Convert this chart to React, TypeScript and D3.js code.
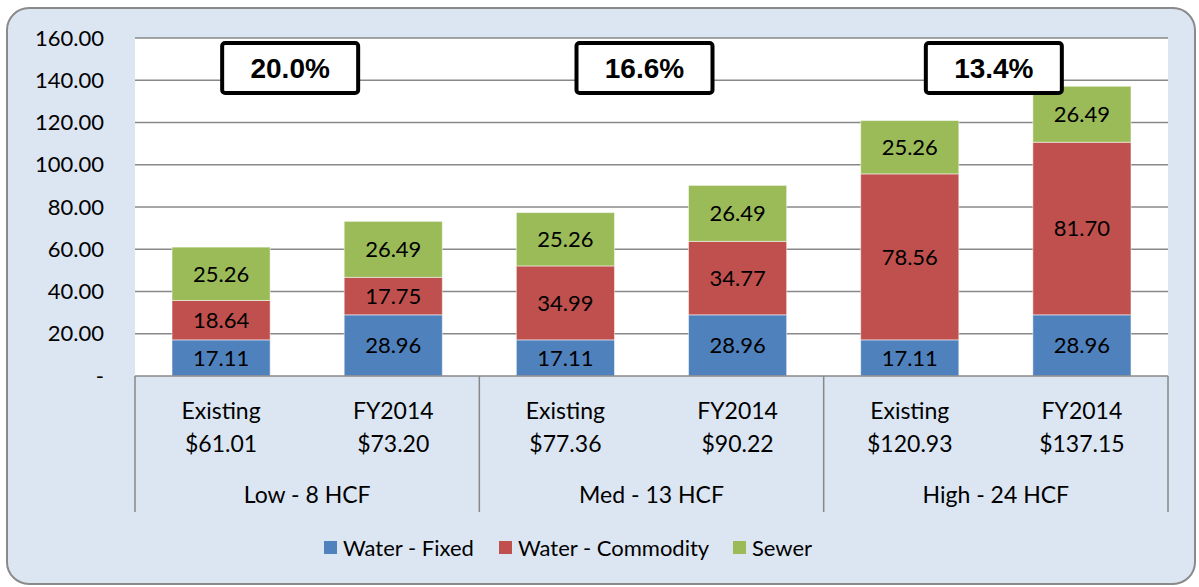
import React from "react";
import * as d3 from "d3";

const groups = ["Low - 8 HCF", "Med - 13 HCF", "High - 24 HCF"];
const scenarios = ["Existing", "FY2014"];
const totals = ["$61.01", "$73.20", "$77.36", "$90.22", "$120.93", "$137.15"];
const waterFixed = [17.11, 28.96, 17.11, 28.96, 17.11, 28.96];
const waterCommodity = [18.64, 17.75, 34.99, 34.77, 78.56, 81.7];
const sewer = [25.26, 26.49, 25.26, 26.49, 25.26, 26.49];
const seriesNames = ["Water - Fixed", "Water - Commodity", "Sewer"];
const increases = ["20.0%", "16.6%", "13.4%"];
const yTicks = [0, 20, 40, 60, 80, 100, 120, 140, 160];

const colors = ["#4F81BD", "#C0504D", "#9BBB59"];
const font = "Lato, 'Open Sans', sans-serif";

const W = 1199;
const H = 587;
const plot = { left: 135, right: 1168, top: 38, bottom: 376 };

export default function App() {
  const keys = d3.range(waterFixed.length).map(String);
  const x = d3.scaleBand().domain(keys).range([plot.left, plot.right]).paddingInner(0.43).paddingOuter(0.215);
  const xg = d3.scaleBand().domain(groups).range([plot.left, plot.right]);
  const y = d3.scaleLinear().domain([0, 160]).range([plot.bottom, plot.top]);

  const rows = keys.map((k, i) => ({ key: k, f: waterFixed[i], c: waterCommodity[i], s: sewer[i] }));
  const stacked = d3.stack<any>().keys(["f", "c", "s"])(rows);

  // callout box offsets relative to group centre
  const boxOffsets = [-17, -7, -2];

  return (
    <svg width={W} height={H} style={{ position: "absolute", left: 0, top: 0 }} fontFamily={font}>
      <rect x={7} y={8} width={1188} height={576} rx={22} fill="#DCE6F2" stroke="#8A8A8A" strokeWidth={2} />
      <rect x={plot.left} y={plot.top} width={plot.right - plot.left} height={plot.bottom - plot.top} fill="#fff" />
      {yTicks.map((t) => (
        <g key={t}>
          {t > 0 && <line x1={plot.left} x2={plot.right} y1={y(t)} y2={y(t)} stroke="#888" strokeWidth={1.5} />}
          <text x={104} y={y(t)} dy="0.35em" textAnchor="end" fontSize={22} fill="#000">
            {t === 0 ? "-" : t.toFixed(2)}
          </text>
        </g>
      ))}
      {stacked.map((layer, li) =>
        layer.map((d, i) => {
          const y0 = y(d[0]);
          const y1 = y(d[1]);
          const val = d[1] - d[0];
          return (
            <g key={`${li}-${i}`}>
              <rect x={x(keys[i])} y={y1} width={x.bandwidth()} height={y0 - y1} fill={colors[li]} stroke="#fff" strokeOpacity={0.5} strokeWidth={1} />
              <text x={(x(keys[i]) as number) + x.bandwidth() / 2} y={(y0 + y1) / 2} dy="0.36em" textAnchor="middle" fontSize={22} fill="#000">
                {val.toFixed(2)}
              </text>
            </g>
          );
        })
      )}
      <line x1={plot.left} x2={plot.right} y1={plot.bottom} y2={plot.bottom} stroke="#888" strokeWidth={1.5} />
      {[...groups.map((g) => xg(g) as number), plot.right].map((gx, i) => (
        <line key={i} x1={gx} x2={gx} y1={plot.bottom} y2={512} stroke="#888" strokeWidth={1.5} />
      ))}
      {keys.map((k, i) => {
        const cx = (x(k) as number) + x.bandwidth() / 2;
        return (
          <text key={k} x={cx} textAnchor="middle" fontSize={23} fill="#000">
            <tspan x={cx} y={419}>{scenarios[i % 2]}</tspan>
            <tspan x={cx} y={452}>{totals[i]}</tspan>
          </text>
        );
      })}
      {groups.map((g) => (
        <text key={g} x={(xg(g) as number) + xg.bandwidth() / 2} y={503} textAnchor="middle" fontSize={23} fill="#000">
          {g}
        </text>
      ))}
      {increases.map((p, i) => {
        const cx = (xg(groups[i]) as number) + xg.bandwidth() / 2 + boxOffsets[i];
        return (
          <g key={p}>
            <rect x={cx - 68} y={43} width={136} height={50} rx={3} fill="#fff" stroke="#000" strokeWidth={4} />
            <text x={cx} y={68} dy="0.36em" textAnchor="middle" fontSize={28} fontWeight="bold" fontFamily="'Liberation Sans', Arial, sans-serif">
              {p}
            </text>
          </g>
        );
      })}
      {seriesNames.map((n, i) => {
        const lx = [324, 499, 733][i];
        return (
          <g key={n}>
            <rect x={lx} y={541} width={13} height={13} fill={colors[i]} />
            <text x={lx + 19} y={548} dy="0.36em" fontSize={22} fill="#000">{n}</text>
          </g>
        );
      })}
    </svg>
  );
}
